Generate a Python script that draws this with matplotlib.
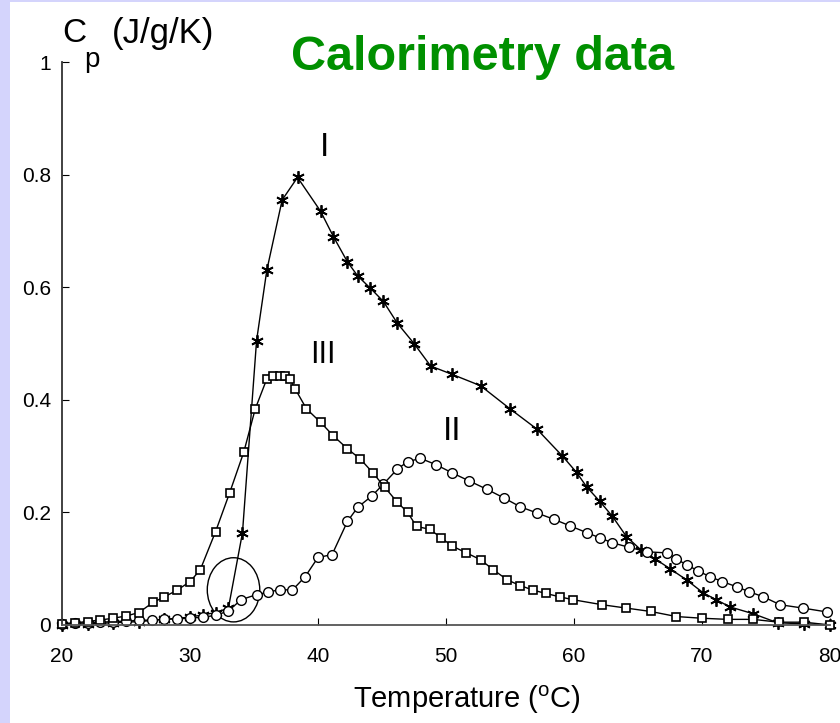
import matplotlib.pyplot as plt
from matplotlib.patches import Ellipse, Rectangle

plt.rcParams['font.family'] = ['Liberation Sans', 'DejaVu Sans']

## Curve I (stars)
temp_I = [20, 22, 24, 26, 28, 30, 31, 32, 33, 34.1, 35.2, 36.0, 37.2, 38.4,
          40.2, 41.2, 42.3, 43.1, 44.1, 45.1, 46.2, 47.5, 48.8, 50.5, 52.7,
          55.0, 57.1, 59.1, 60.2, 61.0, 62.0, 63.0, 64.1, 65.2, 66.3, 67.5,
          68.8, 70.1, 71.1, 72.2, 74.0, 75.9, 78.0, 80.0]
cp_I = [0.0, 0.002, 0.004, 0.006, 0.01, 0.014, 0.018, 0.022, 0.03, 0.164, 0.505,
        0.63, 0.755, 0.795, 0.735, 0.69, 0.645, 0.62, 0.598, 0.575, 0.536, 0.5,
        0.46, 0.445, 0.425, 0.384, 0.348, 0.30, 0.271, 0.245, 0.22, 0.193, 0.157,
        0.134, 0.118, 0.10, 0.08, 0.057, 0.045, 0.032, 0.02, 0.004, 0.002, 0.0]

## Curve II (circles)
temp_II = [20, 21, 22, 23, 24, 25, 26, 27, 28, 29, 30, 31, 32, 33, 34.0, 35.2,
           36.1, 37.0, 38.0, 39.0, 40.0, 41.1, 42.3, 43.1, 44.2, 45.1, 46.2,
           47.0, 48.0, 49.2, 50.5, 51.8, 53.2, 54.5, 55.8, 57.1, 58.4, 59.7,
           61.0, 62.0, 63.0, 64.3, 65.7, 67.3, 68.0, 68.8, 69.7, 70.6, 71.6,
           72.7, 73.7, 74.8, 76.1, 77.9, 79.8]
cp_II = [0.002, 0.003, 0.004, 0.005, 0.006, 0.007, 0.008, 0.009, 0.01, 0.011,
         0.012, 0.014, 0.017, 0.025, 0.045, 0.054, 0.058, 0.063, 0.062, 0.086,
         0.12, 0.125, 0.184, 0.209, 0.229, 0.25, 0.277, 0.29, 0.296, 0.285, 0.27,
         0.256, 0.241, 0.226, 0.21, 0.199, 0.188, 0.176, 0.164, 0.155, 0.146,
         0.138, 0.13, 0.128, 0.117, 0.107, 0.096, 0.086, 0.077, 0.068, 0.059,
         0.05, 0.036, 0.03, 0.023]

## Curve III (squares)
temp_III = [20, 21, 22, 23, 24, 25, 26, 27.1, 28.0, 29.0, 30.0, 30.8, 32.0, 33.1,
            34.2, 35.1, 36.0, 36.5, 37.0, 37.4, 37.8, 38.2, 39.1, 40.2, 41.2,
            42.3, 43.3, 44.3, 45.2, 46.2, 47.0, 47.7, 48.75, 49.6, 50.5, 51.6,
            52.7, 53.7, 54.8, 55.8, 56.8, 57.8, 58.9, 59.9, 62.2, 64.1, 66.0,
            68.0, 70.0, 72.0, 74.0, 76.0, 78.0, 80.0]
cp_III = [0.002, 0.004, 0.006, 0.009, 0.012, 0.016, 0.022, 0.04, 0.05, 0.062,
          0.077, 0.098, 0.166, 0.235, 0.307, 0.384, 0.437, 0.442, 0.443, 0.442,
          0.437, 0.42, 0.384, 0.36, 0.336, 0.313, 0.295, 0.27, 0.245, 0.218, 0.2,
          0.175, 0.17, 0.155, 0.14, 0.128, 0.116, 0.098, 0.08, 0.07, 0.062,
          0.056, 0.05, 0.045, 0.036, 0.03, 0.024, 0.015, 0.012, 0.01, 0.01,
          0.005, 0.005, 0.0]

x_ticks = [20, 30, 40, 50, 60, 70, 80]
y_ticks = [0, 0.2, 0.4, 0.6, 0.8, 1]
y_tick_labels = ['0', '0.2', '0.4', '0.6', '0.8', '1']

fig = plt.figure(figsize=(8.4, 7.23), dpi=100)
fig.patches.append(Rectangle((0, 0), 10 / 840, 1, transform=fig.transFigure,
                             facecolor='#d4d4fc', edgecolor='none', zorder=0))
fig.patches.append(Rectangle((0, 1 - 2 / 723), 1, 2 / 723, transform=fig.transFigure,
                             facecolor='#d4d4fc', edgecolor='none', zorder=0))

ax = fig.add_axes([62 / 840, 1 - 625 / 723, 768 / 840, 563 / 723])
ax.set_xlim(20, 80)
ax.set_ylim(0, 1)

ax.plot(temp_I, cp_I, color='black', lw=1, marker=(6, 2, 0), ms=9, mew=1.3,
        clip_on=False)
ax.plot(temp_II, cp_II, color='black', lw=1, marker='o', ms=7, mfc='white',
        mec='black', mew=1, clip_on=False)
ax.plot(temp_III, cp_III, color='black', lw=1, marker='s', ms=6, mfc='white',
        mec='black', mew=1.2, clip_on=False)

ax.add_patch(Ellipse((33.4, 0.0625), 4.1, 0.114, fill=False, edgecolor='black', lw=1))

for s in ['top', 'right']:
    ax.spines[s].set_visible(False)
ax.spines['left'].set_color('#333333')
ax.spines['bottom'].set_color('#555555')
ax.spines['left'].set_linewidth(1.3)
ax.spines['bottom'].set_linewidth(1.3)

ax.set_xticks(x_ticks)
ax.set_yticks(y_ticks)
ax.set_yticklabels(y_tick_labels)
ax.tick_params(direction='in', length=5, labelsize=15, colors='black')
ax.tick_params(axis='x', pad=16)
ax.tick_params(axis='y', pad=8)

## curve labels
ax.text(40.5, 0.848, 'I', fontsize=24, ha='center', va='center')
ax.text(40.4, 0.479, 'III', fontsize=22, ha='center', va='center')
ax.text(50.5, 0.343, 'II', fontsize=24, ha='center', va='center')

## axis labels
fig.text(62 / 840, 1 - 34 / 723, 'C', fontsize=24, ha='left', va='center')
fig.text(84 / 840, 1 - 60 / 723, 'p', fontsize=20, ha='left', va='center')
fig.text(112 / 840, 1 - 33 / 723, '(J/g/K)', fontsize=25, ha='left', va='center')
fig.text(467 / 840, 1 - 700 / 723, r'Temperature ($^\mathregular{o}$C)',
         fontsize=21, ha='center', va='center')

fig.text(483 / 840, 1 - 58 / 723, 'Calorimetry data', color='#009000',
         fontsize=35, fontweight='bold', ha='center', va='center')

fig.savefig('out.png', dpi=100)
